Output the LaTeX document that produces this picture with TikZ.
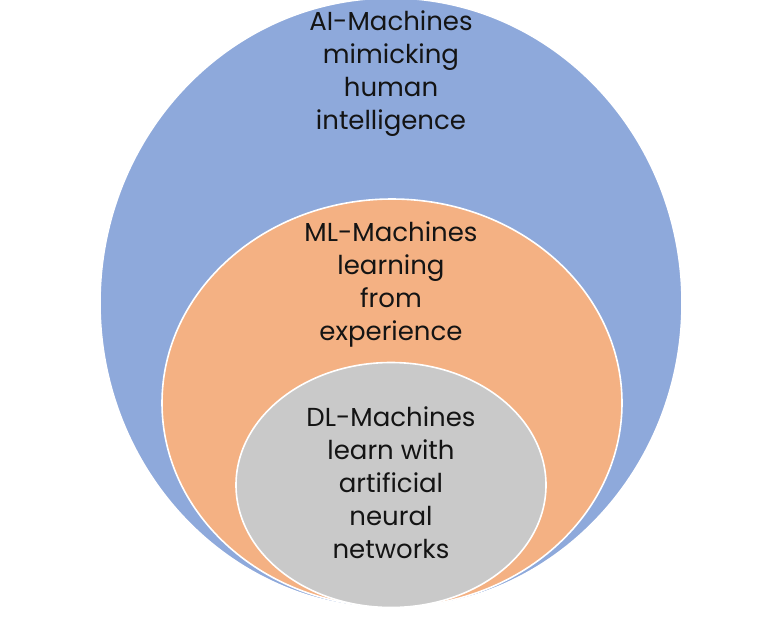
\documentclass[tikz,border=0pt]{standalone}
\usepackage{fontspec}
\setmainfont{Poppins}
\usetikzlibrary{shapes.geometric}
\definecolor{aiblue}{RGB}{142,169,219}
\definecolor{mlorange}{RGB}{244,177,131}
\definecolor{dlgrey}{RGB}{201,201,201}
\definecolor{txt}{RGB}{20,20,20}

\begin{document}
\begin{tikzpicture}[x=1pt,y=-1pt]

\useasboundingbox (0,0) rectangle (781,619);

\begin{scope}[every node/.style={ellipse,draw=white,line width=1.6pt,inner sep=0pt}]
	\node[fill=aiblue,minimum width=582pt,minimum height=610pt] (ai) at (391,303) {};
	\node[fill=mlorange,minimum width=460pt,minimum height=408pt] (ml) at (392,403) {};
	\node[fill=dlgrey,minimum width=310pt,minimum height=245pt] (dl) at (391,485) {};
\end{scope}

\begin{scope}[every node/.style={align=center,text=txt,inner sep=0pt,font=\fontsize{26}{33}\selectfont}]
	\node (aitext) at (391,74) {AI-Machines\\mimicking\\human\\intelligence};
	\node (mltext) at (391,284) {ML-Machines\\learning\\from\\experience};
	\node (dltext) at (391,483) {DL-Machines\\learn with\\artificial\\neural\\networks};
\end{scope}

\end{tikzpicture}
\end{document}
